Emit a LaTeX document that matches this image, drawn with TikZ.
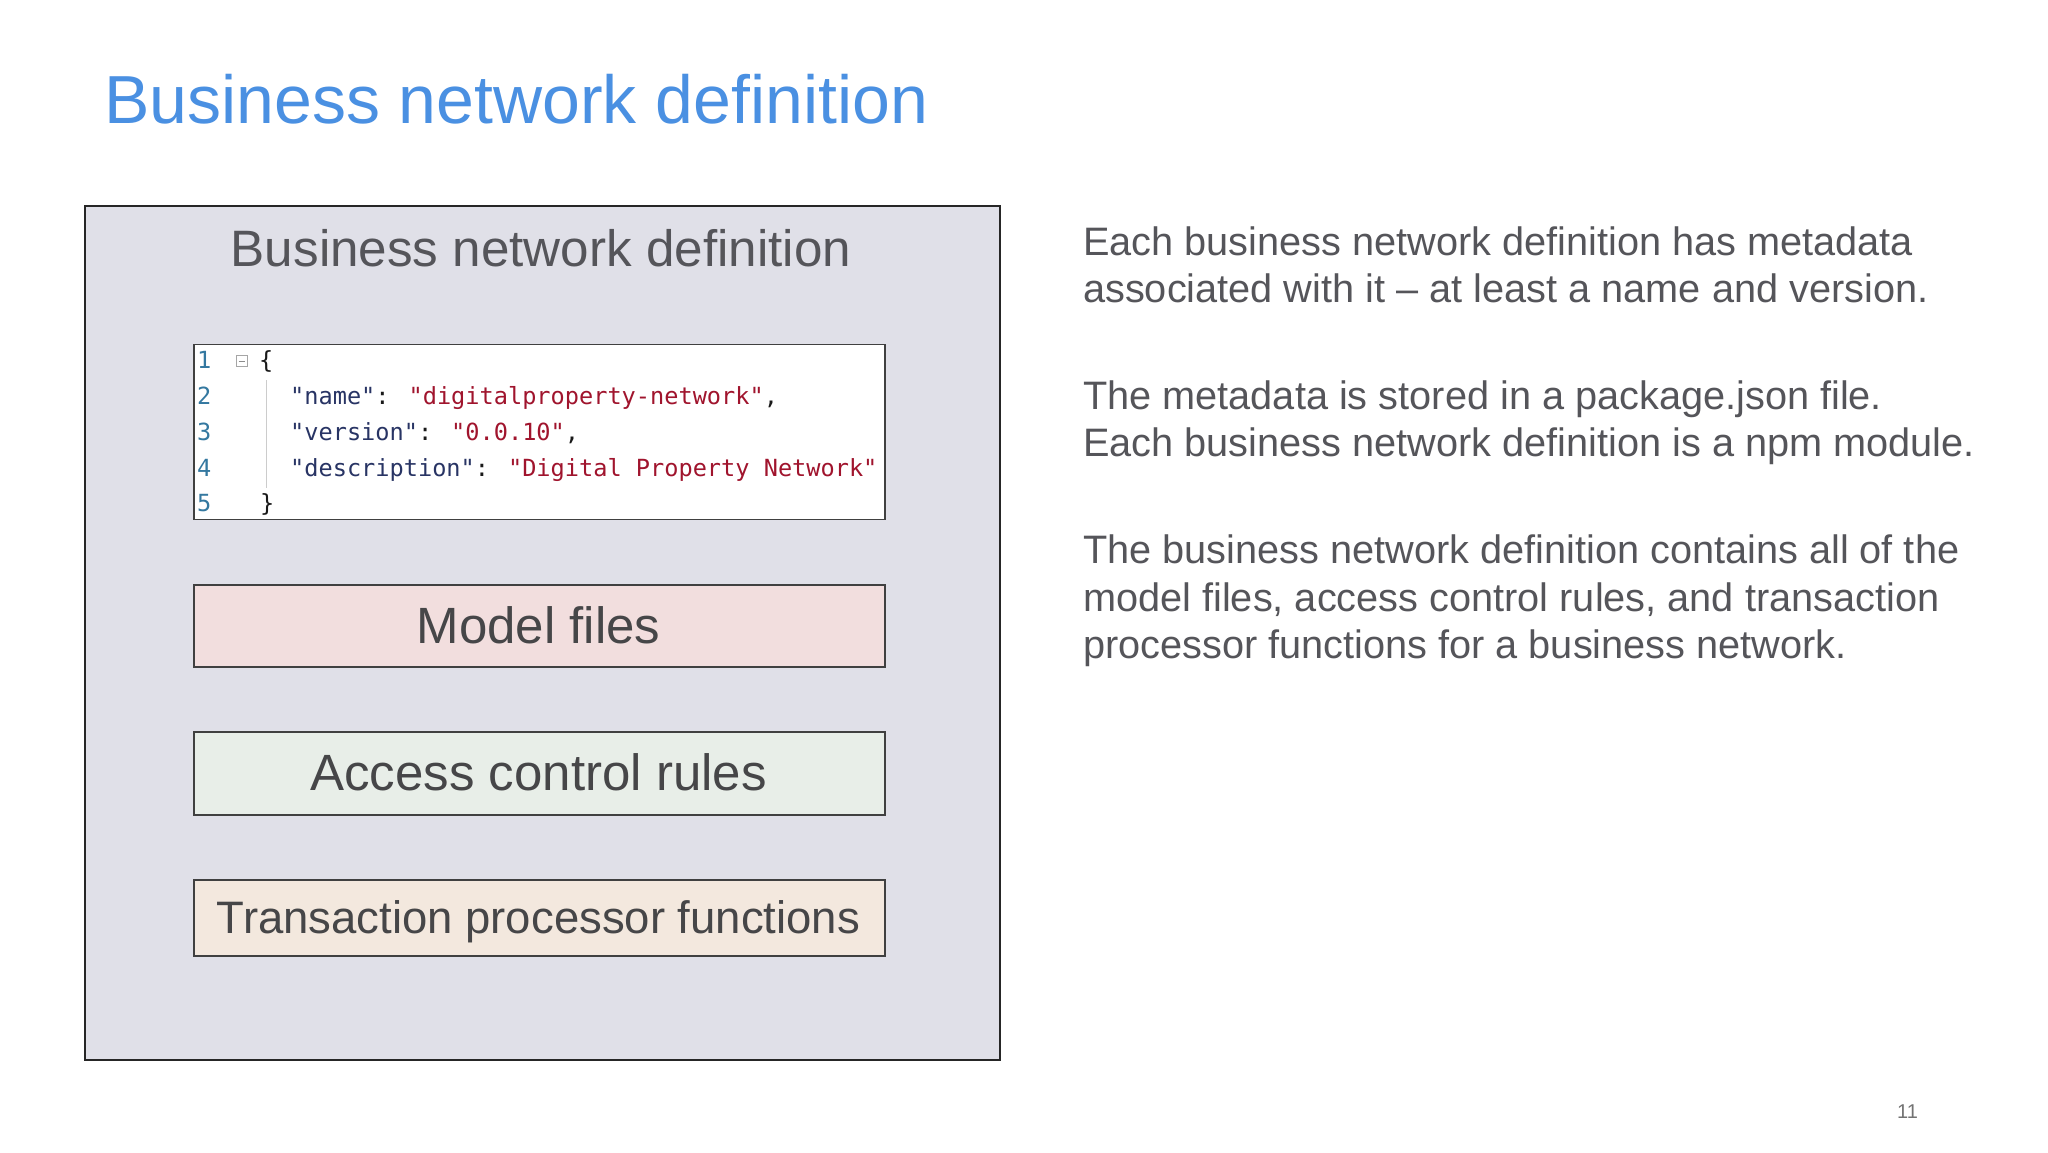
\documentclass[tikz,border=0pt]{standalone}
\usepackage{fontspec}
\setmainfont{Liberation Sans}
\newfontfamily\codefont{DejaVu Sans Mono}
\definecolor{titleblue}{RGB}{74,144,226}
\definecolor{txtgray}{RGB}{85,85,90}
\definecolor{boxtxt}{RGB}{70,70,72}
\definecolor{outerfill}{RGB}{224,224,232}
\definecolor{modelfill}{RGB}{242,222,222}
\definecolor{aclfill}{RGB}{232,238,232}
\definecolor{txfill}{RGB}{243,232,222}
\definecolor{lnblue}{RGB}{52,120,160}
\definecolor{keyblue}{RGB}{40,52,100}
\definecolor{strred}{RGB}{160,20,45}
\tikzset{
  fs/.style={font=\fontsize{#1}{#1}\selectfont},
  partbox/.style={draw=black!75, line width=1.5pt, minimum width=691pt, anchor=north west, inner sep=0pt},
  parttext/.style={text=boxtxt, anchor=base, inner sep=0pt, fs=#1},
  bodytext/.style={text=txtgray, anchor=base west, inner sep=0pt, fs=39.7},
  lnum/.style={text=lnblue, anchor=base west, inner sep=0pt, font=\codefont\fontsize{23.6}{23.6}\selectfont},
  codeline/.style={text=black!90, anchor=base west, inner sep=0pt, font=\codefont\fontsize{23.6}{23.6}\selectfont},
}
\newcommand{\ky}[1]{\textcolor{keyblue}{#1}}
\newcommand{\st}[1]{\textcolor{strred}{#1}}
\begin{document}
\begin{tikzpicture}[x=1pt,y=-1pt]
\useasboundingbox (0,0) rectangle (2048,1152);
\fill[white] (0,0) rectangle (2048,1152);

% title
\node[text=titleblue, anchor=base west, inner sep=0pt, fs=68] (title) at (104,123) {Business network definition};

% outer box
\node[draw=black!85, line width=1.8pt, fill=outerfill, minimum width=915pt, minimum height=854pt, anchor=north west, inner sep=0pt] (outer) at (84,205) {};
\node[text=txtgray, anchor=base, inner sep=0pt, fs=51.2] (outerlbl) at (541,266) {Business network definition};

% code box
\node[draw=black!75, line width=1.5pt, fill=white, minimum width=691pt, minimum height=175pt, anchor=north west, inner sep=0pt] (code) at (193,343.5) {};
\node[lnum] (n1) at (197,368) {1};
\node[lnum] (n2) at (197,404) {2};
\node[lnum] (n3) at (197,440) {3};
\node[lnum] (n4) at (197,476) {4};
\node[lnum] (n5) at (197,511) {5};
\node[draw=black!35, line width=0.8pt, minimum size=11pt, inner sep=0pt] (fold) at (242,361) {};
\draw[black!45, line width=0.8pt] ([xshift=2.5pt]fold.west) -- ([xshift=-2.5pt]fold.east);
\draw[black!20, line width=0.8pt] (266,380) -- (266,488);
\node[codeline] (c1) at (259,368) {\{};
\node[codeline] (c2) at (290,404) {\ky{"name"}: \st{"digitalproperty-network"},};
\node[codeline] (c3) at (290,440) {\ky{"version"}: \st{"0.0.10"},};
\node[codeline] (c4) at (290,476) {\ky{"description"}: \st{"Digital Property Network"}};
\node[codeline] (c5) at (260,511) {\}};

% part boxes
\node[partbox, fill=modelfill, minimum height=82pt] (model) at (193,584) {};
\node[parttext=51] (modeltxt) at (538.5,643) {Model files};
\node[partbox, fill=aclfill, minimum height=83pt] (acl) at (193,731) {};
\node[parttext=51] (acltxt) at (538.5,790) {Access control rules};
\node[partbox, fill=txfill, minimum height=76pt] (tx) at (193,879) {};
\node[parttext=45.5] (txtxt) at (538.5,933) {Transaction processor functions};

% right text
\node[bodytext] (p1a) at (1083,255) {Each business network definition has metadata};
\node[bodytext] (p1b) at (1083,302) {associated with it -- at least a name and version.};
\node[bodytext] (p2a) at (1083,409) {The metadata is stored in a package.json file.};
\node[bodytext] (p2b) at (1083,456) {Each business network definition is a npm module.};
\node[bodytext] (p3a) at (1083,563) {The business network definition contains all of the};
\node[bodytext] (p3b) at (1083,611) {model files, access control rules, and transaction};
\node[bodytext] (p3c) at (1083,658) {processor functions for a business network.};

% page number
\node[text=black!55, anchor=base west, inner sep=0pt, fs=20] (pg) at (1897,1118) {11};
\end{tikzpicture}
\end{document}
